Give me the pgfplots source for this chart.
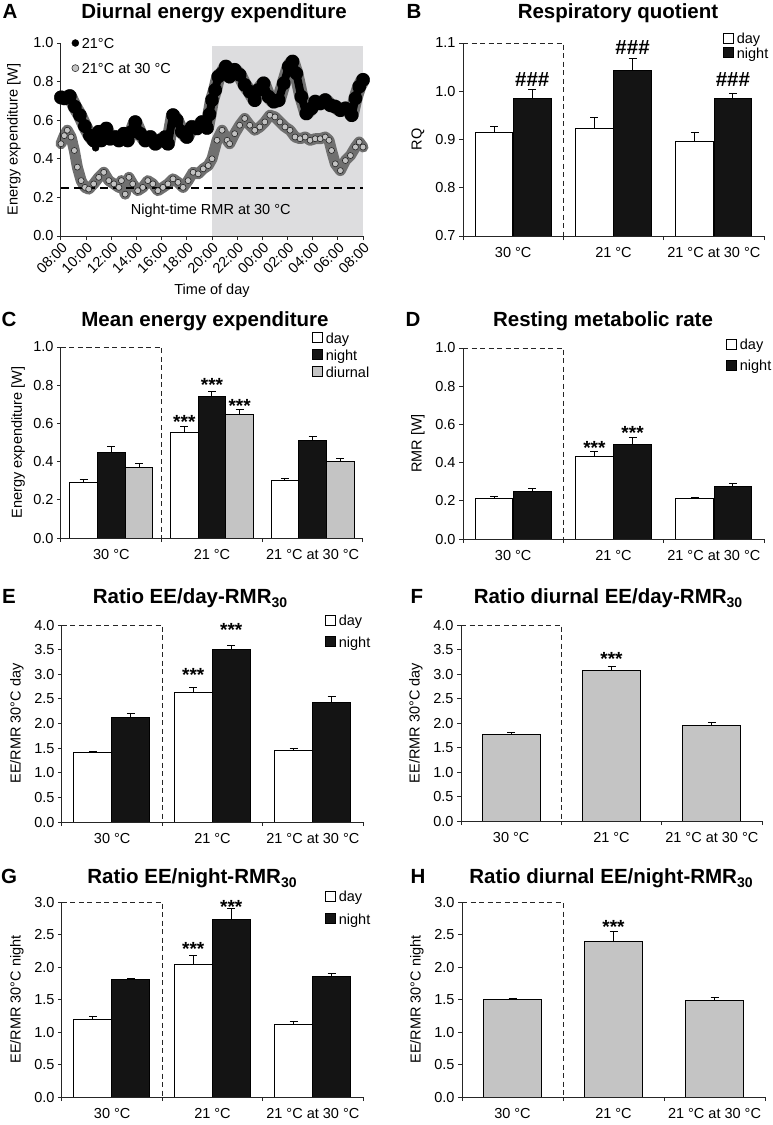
\documentclass[border=0pt]{standalone}
\usepackage{pgfplots}
\usepackage{pgfplotstable}
\pgfplotsset{compat=1.18}
\usepackage{fontspec}
\setmainfont{Liberation Sans}
\definecolor{shadegray}{RGB}{221,221,223}
\definecolor{band}{RGB}{112,112,112}
\definecolor{mk}{RGB}{195,195,195}
\definecolor{barg}{RGB}{196,196,196}
\definecolor{barb}{RGB}{20,20,20}
\newcommand{\fs}{\fontsize{14.5}{16}\selectfont}
\newcommand{\ft}{\fontsize{20.5}{23}\selectfont\bfseries}
\newcommand{\sub}[1]{\raisebox{-4pt}{\fontsize{14}{14}\selectfont #1}}
\tikzset{
  ttl/.style={font=\ft, anchor=base},
  ast/.style={font=\fontsize{19}{20}\selectfont\bfseries, anchor=base, yshift=-11pt},
  hsh/.style={font=\fontsize{20.5}{22}\selectfont\bfseries, anchor=base, yshift=-7pt},
  dbox/.style={black!85, line width=1pt, dash pattern=on 5pt off 3.5pt},
}
\pgfplotsset{
  panel/.style={
    scale only axis, axis on top,
    axis x line*=bottom, axis y line*=left,
    axis line style={black!85, line width=1pt, -},
    every tick/.style={black!85, line width=1pt},
    tick align=outside, major tick length=4pt,
    tick label style={font=\fs},
    label style={font=\fs},
    /pgf/number format/assume math mode=true,
    yticklabel style={/pgf/number format/.cd, fixed, fixed zerofill, precision=1},
    legend style={draw=none, fill=none, font=\fs, inner sep=0pt, outer sep=0pt, nodes={inner sep=1pt},
      /tikz/every odd column/.append style={column sep=2pt}},
    legend cell align=left,
  },
  barax/.style={panel, clip=true, clip mode=individual,
    xmin=0, xmax=3, xtick={0,1,2,3}, xticklabels={},
    extra x ticks={0.5,1.5,2.5}, extra x tick labels={30 °C,21 °C,21 °C at 30 °C},
    extra x tick style={major tick length=0pt, tick label style={yshift=-8pt}},
    legend image code/.code={\draw[#1] (0pt,-4pt) rectangle (10pt,6pt);},
  },
  bb/.style={ybar, bar shift=0pt, draw=black, line width=1pt, forget plot,
    error bars/y dir=plus, error bars/y explicit,
    error bars/error bar style={black, line width=1pt},
    error bars/error mark options={rotate=90, mark size=4pt, line width=1pt, black}},
}

\pgfplotstableread[row sep=\\]{
x y\\
0.0 0.718\\ 0.3 0.713\\ 0.7 0.725\\ 1.1 0.670\\ 1.5 0.626\\ 1.9 0.569\\
2.3 0.520\\ 2.6 0.495\\ 3.0 0.540\\ 3.2 0.495\\ 3.6 0.557\\ 3.9 0.504\\
4.3 0.513\\ 4.6 0.495\\ 5.0 0.530\\ 5.3 0.495\\ 5.6 0.540\\ 5.9 0.590\\
6.3 0.530\\ 6.7 0.495\\ 7.1 0.513\\ 7.5 0.478\\ 7.9 0.495\\ 8.3 0.513\\
8.5 0.478\\ 8.9 0.626\\ 9.2 0.600\\ 9.6 0.540\\ 10.0 0.513\\ 10.4 0.565\\
10.8 0.557\\ 11.2 0.590\\ 11.6 0.560\\ 11.8 0.630\\ 12.0 0.704\\ 12.25 0.757\\
12.5 0.826\\ 12.8 0.843\\ 13.1 0.878\\ 13.4 0.826\\ 13.8 0.861\\ 14.2 0.835\\
14.6 0.783\\ 15.0 0.748\\ 15.4 0.704\\ 15.7 0.757\\ 16.1 0.791\\ 16.5 0.722\\
16.9 0.696\\ 17.3 0.704\\ 17.7 0.791\\ 18.1 0.878\\ 18.4 0.904\\ 18.7 0.843\\
19.1 0.722\\ 19.5 0.635\\ 19.9 0.661\\ 20.2 0.696\\ 20.6 0.687\\ 21.0 0.704\\
21.4 0.678\\ 21.8 0.670\\ 22.2 0.652\\ 22.6 0.661\\ 22.9 0.652\\ 23.1 0.626\\
23.4 0.713\\ 23.7 0.774\\ 24.0 0.809\\
}\blk

\pgfplotstableread[row sep=\\]{
x y\\
0.0 0.478\\ 0.26 0.520\\ 0.5 0.548\\ 0.8 0.513\\ 1.06 0.443\\ 1.3 0.357\\
1.6 0.287\\ 1.9 0.252\\ 2.2 0.243\\ 2.6 0.270\\ 3.0 0.304\\ 3.4 0.330\\
3.8 0.287\\ 4.2 0.270\\ 4.6 0.252\\ 4.8 0.287\\ 5.1 0.217\\ 5.4 0.304\\
5.7 0.270\\ 6.1 0.235\\ 6.5 0.252\\ 6.9 0.287\\ 7.3 0.270\\ 7.7 0.235\\
8.1 0.252\\ 8.5 0.270\\ 8.9 0.296\\ 9.3 0.278\\ 9.7 0.252\\ 10.1 0.287\\
10.5 0.330\\ 10.9 0.322\\ 11.3 0.348\\ 11.7 0.365\\ 12.0 0.400\\ 12.4 0.496\\
12.8 0.548\\ 13.2 0.496\\ 13.4 0.478\\ 13.8 0.530\\ 14.2 0.574\\ 14.6 0.609\\
15.0 0.574\\ 15.4 0.548\\ 15.8 0.565\\ 16.2 0.591\\ 16.6 0.626\\ 17.0 0.617\\
17.4 0.591\\ 17.8 0.565\\ 18.2 0.548\\ 18.6 0.513\\ 19.0 0.504\\ 19.4 0.513\\
19.8 0.496\\ 20.2 0.504\\ 20.6 0.504\\ 21.0 0.513\\ 21.3 0.496\\ 21.5 0.443\\
21.8 0.374\\ 22.2 0.339\\ 22.6 0.391\\ 23.0 0.417\\ 23.4 0.461\\ 23.7 0.487\\
24.0 0.461\\
}\gry

\begin{document}
\begin{tikzpicture}
\path[use as bounding box] (0pt,0pt) rectangle (772pt,-1125pt);

% ---------- titles and letters ----------
\node[ttl] at (10pt,-18.3pt) {A};
\node[ttl] at (214pt,-18.3pt) {Diurnal energy expenditure};
\node[ttl] at (414pt,-18.3pt) {B};
\node[ttl] at (618pt,-18.3pt) {Respiratory quotient};
\node[ttl] at (9pt,-326.7pt) {C};
\node[ttl] at (205pt,-326.7pt) {Mean energy expenditure};
\node[ttl] at (413pt,-326.7pt) {D};
\node[ttl] at (603pt,-326.7pt) {Resting metabolic rate};
\node[ttl] at (9pt,-603.3pt) {E};
\node[ttl] at (190pt,-603.3pt) {Ratio EE/day-RMR\sub{30}};
\node[ttl] at (417pt,-603.3pt) {F};
\node[ttl] at (608pt,-603.3pt) {Ratio diurnal EE/day-RMR\sub{30}};
\node[ttl] at (9pt,-883.3pt) {G};
\node[ttl] at (192pt,-883.3pt) {Ratio EE/night-RMR\sub{30}};
\node[ttl] at (418pt,-883.3pt) {H};
\node[ttl] at (611pt,-883.3pt) {Ratio diurnal EE/night-RMR\sub{30}};

% ---------- A ----------
\begin{axis}[panel, clip=false, at={(61pt,-236pt)}, anchor=south west, width=302pt, height=193pt,
  xmin=0, xmax=24, ymin=0, ymax=1,
  xtick={0,2,4,6,8,10,12,14,16,18,20,22,24},
  xticklabels={08:00,10:00,12:00,14:00,16:00,18:00,20:00,22:00,00:00,02:00,04:00,06:00,08:00},
  xticklabel style={rotate=45, anchor=north east, inner sep=1pt},
  ytick={0,0.2,0.4,0.6,0.8,1.0},
  xlabel={Time of day}, xlabel style={at={(axis description cs:0.5,-0.285)}, anchor=center},
  ylabel={Energy expenditure [W]}, ylabel style={at={(axis description cs:-0.156,0.5)}, anchor=center},
  legend style={at={(axis description cs:0.036,1.03)}, anchor=north west, row sep=11.5pt},
  legend image code/.code={\draw[#1] plot coordinates {(3.5pt,1pt)};},
]
\fill[shadegray] (axis cs:12,0) rectangle (axis cs:24,0.985);
\addlegendimage{only marks, mark=*, mark size=3.5pt, mark options={fill=black, draw=black}}
\addlegendentry{21°C}
\addlegendimage{only marks, mark=*, mark size=3.5pt, mark options={fill=mk, draw=black!80, line width=0.6pt}}
\addlegendentry{21°C at 30 °C}
\addplot[band, line width=14pt, line join=round, line cap=round, forget plot] table[x=x,y=y] {\blk};
\addplot[band, line width=11pt, line join=round, line cap=round, forget plot] table[x=x,y=y] {\gry};
\addplot[black, line width=2pt, dash pattern=on 8pt off 5pt, forget plot] coordinates {(0,0.25) (24,0.25)};
\addplot[black, line width=8pt, line join=round, line cap=round, mark=*, mark size=3pt, forget plot] table[x=x,y=y] {\blk};
\addplot[only marks, mark=*, mark size=3.5pt, mark options={fill=black}, forget plot] coordinates {(2.75,0.457)};
\addplot[only marks, mark=*, mark size=3pt, mark options={fill=mk, draw=black!85, line width=0.6pt}, forget plot] table[x=x,y=y] {\gry};
\node[font=\fs] at (axis cs:11.9,0.13) {Night-time RMR at 30 °C};
\end{axis}

% ---------- B ----------
\begin{axis}[barax, at={(463pt,-236pt)}, anchor=south west, width=301pt, height=193pt,
  ymin=0.7, ymax=1.1, ytick={0.7,0.8,0.9,1.0,1.1},
  ylabel={RQ}, ylabel style={at={(axis description cs:-0.150,0.5)}, anchor=center},
  legend style={at={(axis description cs:0.864,1.056)}, anchor=north west, row sep=0.5pt}]
\addlegendimage{fill=white, draw=black, line width=0.8pt}\addlegendentry{day}
\addlegendimage{fill=barb, draw=black, line width=0.8pt}\addlegendentry{night}
\addplot[bb, fill=white, bar width=0.375] coordinates {(0.31,0.915) +- (0,0.012) (1.31,0.922) +- (0,0.024) (2.31,0.895) +- (0,0.020)};
\addplot[bb, fill=barb, bar width=0.375] coordinates {(0.69,0.986) +- (0,0.017) (1.69,1.043) +- (0,0.024) (2.69,0.985) +- (0,0.011)};
\draw[dbox] (axis cs:0,1.1) -- (axis cs:1,1.1) -- (axis cs:1,0.7);
\node[hsh] at (axis cs:0.69,1.024) {\#\#\#};
\node[hsh] at (axis cs:1.69,1.090) {\#\#\#};
\node[hsh] at (axis cs:2.69,1.024) {\#\#\#};
\end{axis}

% ---------- C ----------
\begin{axis}[barax, at={(61pt,-538pt)}, anchor=south west, width=302pt, height=191pt,
  ymin=0, ymax=1, ytick={0,0.2,0.4,0.6,0.8,1.0},
  ylabel={Energy expenditure [W]}, ylabel style={at={(axis description cs:-0.142,0.5)}, anchor=center},
  legend style={at={(axis description cs:0.831,1.08)}, anchor=north west, row sep=3pt}]
\addlegendimage{fill=white, draw=black, line width=0.8pt}\addlegendentry{day}
\addlegendimage{fill=barb, draw=black, line width=0.8pt}\addlegendentry{night}
\addlegendimage{fill=barg, draw=black, line width=0.8pt}\addlegendentry{diurnal}
\addplot[bb, fill=white, bar width=0.273] coordinates {(0.225,0.292) +- (0,0.012) (1.225,0.553) +- (0,0.030) (2.225,0.303) +- (0,0.007)};
\addplot[bb, fill=barb, bar width=0.273] coordinates {(0.5,0.447) +- (0,0.031) (1.5,0.741) +- (0,0.024) (2.5,0.508) +- (0,0.022)};
\addplot[bb, fill=barg, bar width=0.273] coordinates {(0.775,0.369) +- (0,0.022) (1.775,0.647) +- (0,0.028) (2.775,0.403) +- (0,0.014)};
\draw[dbox] (axis cs:0,1) -- (axis cs:1,1) -- (axis cs:1,0);
\node[ast] at (axis cs:1.225,0.630) {***};
\node[ast] at (axis cs:1.5,0.826) {***};
\node[ast] at (axis cs:1.775,0.713) {***};
\end{axis}

% ---------- D ----------
\begin{axis}[barax, at={(463pt,-539pt)}, anchor=south west, width=301pt, height=191pt,
  ymin=0, ymax=1, ytick={0,0.2,0.4,0.6,0.8,1.0},
  ylabel={RMR [W]}, ylabel style={at={(axis description cs:-0.150,0.5)}, anchor=center},
  legend style={at={(axis description cs:0.874,1.05)}, anchor=north west, row sep=6.5pt}]
\addlegendimage{fill=white, draw=black, line width=0.8pt}\addlegendentry{day}
\addlegendimage{fill=barb, draw=black, line width=0.8pt}\addlegendentry{night}
\addplot[bb, fill=white, bar width=0.375] coordinates {(0.31,0.213) +- (0,0.010) (1.31,0.433) +- (0,0.024) (2.31,0.211) +- (0,0.007)};
\addplot[bb, fill=barb, bar width=0.375] coordinates {(0.69,0.250) +- (0,0.012) (1.69,0.497) +- (0,0.032) (2.69,0.277) +- (0,0.014)};
\draw[dbox] (axis cs:0,1) -- (axis cs:1,1) -- (axis cs:1,0);
\node[ast] at (axis cs:1.31,0.500) {***};
\node[ast] at (axis cs:1.69,0.578) {***};
\end{axis}

% ---------- E ----------
\begin{axis}[barax, at={(62pt,-822pt)}, anchor=south west, width=301pt, height=197pt,
  ymin=0, ymax=4, ytick={0,0.5,1,1.5,2,2.5,3,3.5,4},
  ylabel={EE/RMR 30°C day}, ylabel style={at={(axis description cs:-0.150,0.5)}, anchor=center},
  legend style={at={(axis description cs:0.874,1.055)}, anchor=north west, row sep=7.5pt}]
\addlegendimage{fill=white, draw=black, line width=0.8pt}\addlegendentry{day}
\addlegendimage{fill=barb, draw=black, line width=0.8pt}\addlegendentry{night}
\addplot[bb, fill=white, bar width=0.378] coordinates {(0.308,1.403) +- (0,0.034) (1.308,2.63) +- (0,0.10) (2.308,1.45) +- (0,0.035)};
\addplot[bb, fill=barb, bar width=0.378] coordinates {(0.687,2.12) +- (0,0.08) (1.687,3.51) +- (0,0.07) (2.687,2.43) +- (0,0.12)};
\draw[dbox] (axis cs:0,4) -- (axis cs:1,4) -- (axis cs:1,0);
\node[ast] at (axis cs:1.308,3.08) {***};
\node[ast] at (axis cs:1.687,4.0) {***};
\end{axis}

% ---------- F ----------
\begin{axis}[barax, at={(461pt,-821pt)}, anchor=south west, width=301pt, height=196pt,
  ymin=0, ymax=4, ytick={0,0.5,1,1.5,2,2.5,3,3.5,4},
  ylabel={EE/RMR 30°C day}, ylabel style={at={(axis description cs:-0.150,0.5)}, anchor=center}]
\addplot[bb, fill=barg, bar width=0.58] coordinates {(0.5,1.769) +- (0,0.045) (1.5,3.08) +- (0,0.08) (2.5,1.946) +- (0,0.065)};
\draw[dbox] (axis cs:0,4) -- (axis cs:1,4) -- (axis cs:1,0);
\node[ast] at (axis cs:1.5,3.39) {***};
\end{axis}

% ---------- G ----------
\begin{axis}[barax, at={(62pt,-1097pt)}, anchor=south west, width=301pt, height=195pt,
  ymin=0, ymax=3, ytick={0,0.5,1,1.5,2,2.5,3},
  ylabel={EE/RMR 30°C night}, ylabel style={at={(axis description cs:-0.150,0.5)}, anchor=center},
  legend style={at={(axis description cs:0.874,1.06)}, anchor=north west, row sep=8.5pt}]
\addlegendimage{fill=white, draw=black, line width=0.8pt}\addlegendentry{day}
\addlegendimage{fill=barb, draw=black, line width=0.8pt}\addlegendentry{night}
\addplot[bb, fill=white, bar width=0.378] coordinates {(0.308,1.196) +- (0,0.036) (1.308,2.044) +- (0,0.128) (2.308,1.114) +- (0,0.041)};
\addplot[bb, fill=barb, bar width=0.378] coordinates {(0.687,1.804) +- (0,0.021) (1.687,2.734) +- (0,0.164) (2.687,1.855) +- (0,0.045)};
\draw[dbox] (axis cs:0,3) -- (axis cs:1,3) -- (axis cs:1,0);
\node[ast] at (axis cs:1.308,2.35) {***};
\node[ast] at (axis cs:1.687,3.0) {***};
\end{axis}

% ---------- H ----------
\begin{axis}[barax, at={(462pt,-1097pt)}, anchor=south west, width=303pt, height=195pt,
  ymin=0, ymax=3, ytick={0,0.5,1,1.5,2,2.5,3},
  ylabel={EE/RMR 30°C night}, ylabel style={at={(axis description cs:-0.149,0.5)}, anchor=center}]
\addplot[bb, fill=barg, bar width=0.58] coordinates {(0.5,1.502) +- (0,0.018) (1.5,2.39) +- (0,0.15) (2.5,1.487) +- (0,0.041)};
\draw[dbox] (axis cs:0,3) -- (axis cs:1,3) -- (axis cs:1,0);
\node[ast] at (axis cs:1.5,2.68) {***};
\end{axis}
\end{tikzpicture}
\end{document}
